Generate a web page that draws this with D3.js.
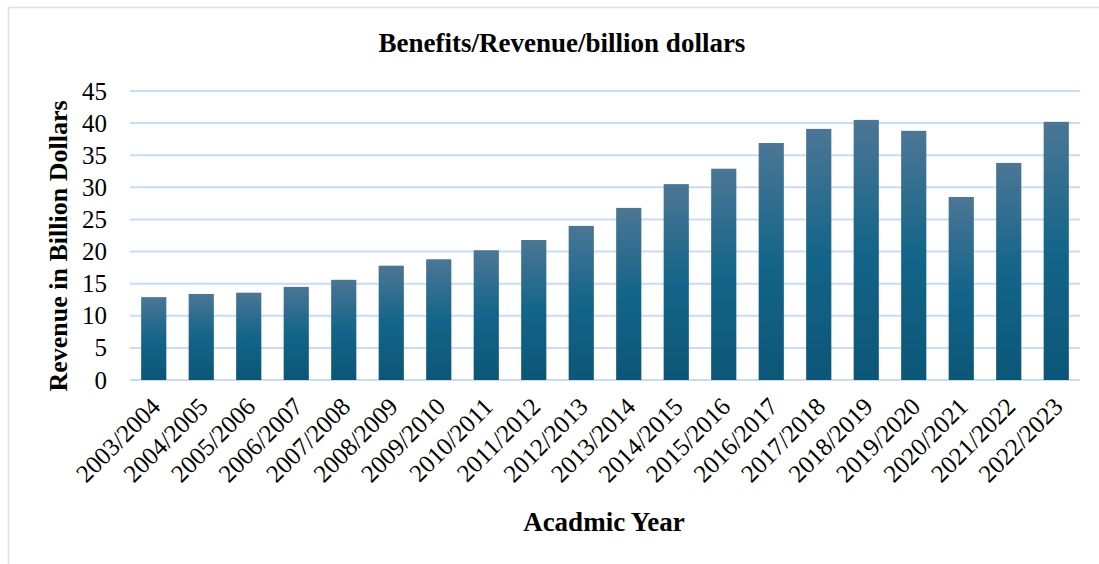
<!DOCTYPE html>
<html>
<head>
<meta charset="utf-8">
<script src="https://cdn.jsdelivr.net/npm/d3@7/dist/d3.min.js"></script>
<style>
  html, body { margin: 0; padding: 0; background: #ffffff; }
  svg { display: block; }
  text { font-family: "Liberation Serif", "Times New Roman", serif; fill: #000; }
</style>
</head>
<body>
<svg id="chart" width="1099" height="564"></svg>
<script>
// Academic years on the category axis
const years = [
  "2003/2004", "2004/2005", "2005/2006", "2006/2007", "2007/2008",
  "2008/2009", "2009/2010", "2010/2011", "2011/2012", "2012/2013",
  "2013/2014", "2014/2015", "2015/2016", "2016/2017", "2017/2018",
  "2018/2019", "2019/2020", "2020/2021", "2021/2022", "2022/2023"
];

// Revenue in billion dollars for each academic year
const revenue = [
  12.9, 13.4, 13.6, 14.5, 15.6, 17.8, 18.8, 20.2, 21.8, 24.0,
  26.8, 30.5, 32.9, 36.9, 39.1, 40.5, 38.8, 28.5, 33.8, 40.2
];

// Value axis ticks
const yTicks = [0, 5, 10, 15, 20, 25, 30, 35, 40, 45];

const chartTitle = "Benefits/Revenue/billion dollars";
const xTitle = "Acadmic Year";
const yTitle = "Revenue in Billion Dollars";

const svg = d3.select("#chart");

// outer frame
svg.append("rect")
  .attr("x", 8.5).attr("y", 7.5)
  .attr("width", 1120).attr("height", 600)
  .attr("fill", "none")
  .attr("stroke", "#d3e2f1")
  .attr("stroke-width", 1.5);

const plot = { left: 130, right: 1080, top: 91, bottom: 380 };

const x = d3.scaleBand()
  .domain(years)
  .range([plot.left, plot.right])
  .paddingInner(0.47)
  .paddingOuter(0.235);

const y = d3.scaleLinear()
  .domain([0, 45])
  .range([plot.bottom, plot.top]);

// bar fill: lighter slate blue at the top fading to deep teal
const defs = svg.append("defs");
const grad = defs.append("linearGradient")
  .attr("id", "barFill")
  .attr("x1", 0).attr("y1", 0).attr("x2", 0).attr("y2", 1);
grad.append("stop").attr("offset", "0%").attr("stop-color", "#4c7695");
grad.append("stop").attr("offset", "50%").attr("stop-color", "#136589");
grad.append("stop").attr("offset", "100%").attr("stop-color", "#0c5677");

// horizontal gridlines
svg.append("g")
  .selectAll("line")
  .data(yTicks)
  .join("line")
  .attr("x1", plot.left).attr("x2", plot.right)
  .attr("y1", d => y(d)).attr("y2", d => y(d))
  .attr("stroke", "#c9dcf1")
  .attr("stroke-width", 2);

// bars
svg.append("g")
  .selectAll("rect")
  .data(revenue)
  .join("rect")
  .attr("x", (d, i) => x(years[i]))
  .attr("width", x.bandwidth())
  .attr("y", d => y(d))
  .attr("height", d => y(0) - y(d))
  .attr("fill", "url(#barFill)");

// y axis labels
const yAxis = d3.axisLeft(y).tickValues(yTicks).tickSize(0).tickPadding(0);
const yg = svg.append("g")
  .attr("transform", `translate(107,0)`)
  .call(yAxis);
yg.select(".domain").remove();
yg.selectAll("text")
  .style("font-family", "'Liberation Serif', serif")
  .style("font-size", "25px")
  .attr("fill", "#000");

// x axis labels, rotated
const xAxis = d3.axisBottom(x).tickSize(0).tickPadding(0);
const xg = svg.append("g")
  .attr("transform", `translate(0,${plot.bottom})`)
  .call(xAxis);
xg.select(".domain").remove();
xg.selectAll("text")
  .style("font-family", "'Liberation Serif', serif")
  .style("font-size", "25px")
  .attr("fill", "#000")
  .attr("text-anchor", "end")
  .attr("y", 0)
  .attr("dy", "0.35em")
  .attr("transform", "translate(2,22) rotate(-45)");

// titles
svg.append("text")
  .attr("x", 562).attr("y", 52)
  .attr("text-anchor", "middle")
  .style("font-weight", "bold")
  .style("font-size", "27px")
  .text(chartTitle);

svg.append("text")
  .attr("x", 604).attr("y", 531)
  .attr("text-anchor", "middle")
  .style("font-weight", "bold")
  .style("font-size", "27px")
  .text(xTitle);

svg.append("text")
  .attr("transform", "translate(67,246) rotate(-90)")
  .attr("text-anchor", "middle")
  .style("font-weight", "bold")
  .style("font-size", "26px")
  .text(yTitle);
</script>
</body>
</html>
